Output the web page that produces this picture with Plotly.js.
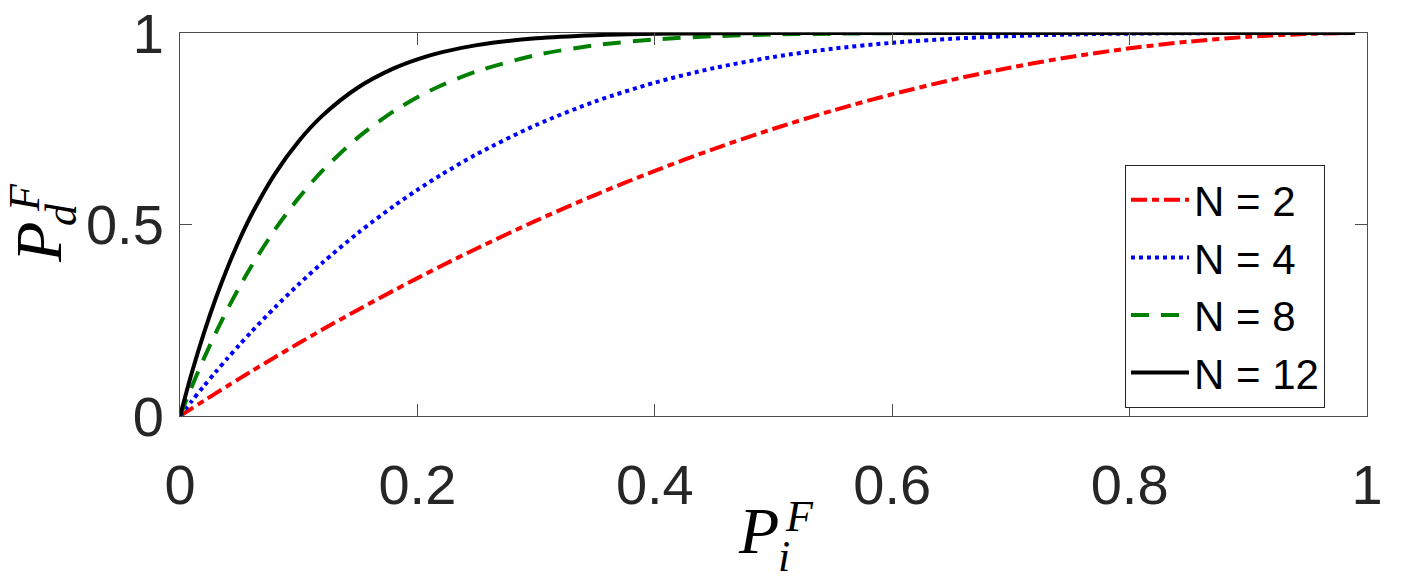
<!DOCTYPE html>
<html>
<head>
<meta charset="utf-8">
<script src="https://cdn.plot.ly/plotly-3.0.1.min.js"></script>
<style>html,body{margin:0;padding:0;background:#fff;}#chart{width:1407px;height:582px;}</style>
</head>
<body>
<div id="chart"></div>
<script>
const pi = [0, 0.01, 0.02, 0.03, 0.04, 0.05, 0.06, 0.08, 0.10, 0.12, 0.15, 0.18, 0.20, 0.22, 0.25, 0.30, 0.35, 0.40, 0.45, 0.50, 0.55, 0.60, 0.65, 0.70, 0.75, 0.80, 0.85, 0.90, 0.95, 0.99];
const pdN2 = [0, 0.0199, 0.0396, 0.0591, 0.0784, 0.0975, 0.1164, 0.1536, 0.19, 0.2256, 0.2775, 0.3276, 0.36, 0.3916, 0.4375, 0.51, 0.5775, 0.64, 0.6975, 0.75, 0.7975, 0.84, 0.8775, 0.91, 0.9375, 0.96, 0.9775, 0.99, 0.9975, 0.9999];
const pdN4 = [0, 0.0394, 0.0776, 0.1147, 0.1507, 0.1855, 0.2193, 0.2836, 0.3439, 0.4003, 0.478, 0.5479, 0.5904, 0.6298, 0.6836, 0.7599, 0.8215, 0.8704, 0.9085, 0.9375, 0.959, 0.9744, 0.985, 0.9919, 0.9961, 0.9984, 0.9995, 0.9999, 1, 1];
const pdN8 = [0, 0.0773, 0.1492, 0.2163, 0.2786, 0.3366, 0.3904, 0.4868, 0.5695, 0.6404, 0.7275, 0.7956, 0.8322, 0.863, 0.8999, 0.9424, 0.9681, 0.9832, 0.9916, 0.9961, 0.9983, 0.9993, 0.9998, 0.9999, 1, 1, 1, 1, 1, 1];
const pdN12 = [0, 0.1136, 0.2153, 0.3062, 0.3873, 0.4596, 0.5241, 0.6323, 0.7176, 0.7843, 0.8578, 0.9076, 0.9313, 0.9493, 0.9683, 0.9862, 0.9943, 0.9978, 0.9992, 0.9998, 0.9999, 1, 1, 1, 1, 1, 1, 1, 1, 1];
const seriesNames = ['N = 2', 'N = 4', 'N = 8', 'N = 12'];
const xTicks = [0, 0.2, 0.4, 0.6, 0.8, 1];
const xTickLabels = ['0', '0.2', '0.4', '0.6', '0.8', '1'];
const yTicks = [0, 0.5, 1];
const yTickLabels = ['0', '0.5', '1'];

const styles = [
  {color: '#ff0000', dash: '16px,5px,7px,5px'},
  {color: '#0000ff', dash: '4px,4px'},
  {color: '#008000', dash: '18px,12px'},
  {color: '#000000', dash: 'solid'}
];
const ys = [pdN2, pdN4, pdN8, pdN12];
const traces = ys.map((y, i) => ({
  x: pi, y: y, type: 'scatter', mode: 'lines', name: seriesNames[i],
  line: {color: styles[i].color, dash: styles[i].dash, width: 4, shape: 'spline', smoothing: 0.8}
}));

// plot area in pixels
const L = 180, R = 1367, T = 33, B = 416;
const px = v => (v - L) / (R - L);
const py = v => (B - v) / (B - T);
const serif = 'Liberation Serif, Times New Roman, serif';
const ann = (text, x, y, size, angle) => ({
  text: text, xref: 'paper', yref: 'paper', x: px(x), y: py(y),
  xanchor: 'center', yanchor: 'middle', showarrow: false, textangle: angle || 0,
  font: {family: serif, size: size, color: '#000'}
});

const axisCommon = {
  showgrid: false, zeroline: false, showline: true, mirror: 'ticks',
  linecolor: '#4d4d4d', linewidth: 1, ticks: 'inside', ticklen: 12, tickcolor: '#4d4d4d', tickwidth: 1,
  tickfont: {family: 'Liberation Sans, Arial, sans-serif', size: 56, color: '#262626'},
  fixedrange: true
};

const layout = {
  width: 1407, height: 582,
  margin: {l: L, r: 1407 - R, t: T, b: 582 - B},
  paper_bgcolor: '#fff', plot_bgcolor: '#fff',
  showlegend: true,
  xaxis: Object.assign({}, axisCommon, {range: [0, 1], tickvals: xTicks, ticktext: xTickLabels, ticklabelstandoff: 20}),
  yaxis: Object.assign({}, axisCommon, {range: [0, 1], tickvals: yTicks, ticktext: yTickLabels, ticklabelstandoff: 4}),
  legend: {
    x: px(1125), y: py(165), xanchor: 'left', yanchor: 'top',
    bgcolor: '#fff', bordercolor: '#262626', borderwidth: 1,
    font: {family: 'Liberation Sans, Arial, sans-serif', size: 42, color: '#000'},
    itemwidth: 58, tracegroupgap: 0
  },
  annotations: [
    ann('<i>P</i>', 758, 530, 66),
    ann('<i>F</i>', 800, 516, 44),
    ann('<i>i</i>', 784, 556, 44),
    ann('<i>P</i>', 38, 243, 66, -90),
    ann('<i>F</i>', 24, 198, 44, -90),
    ann('<i>d</i>', 61, 215, 44, -90)
  ]
};

Plotly.newPlot('chart', traces, layout, {displayModeBar: false, staticPlot: true});
</script>
</body>
</html>
